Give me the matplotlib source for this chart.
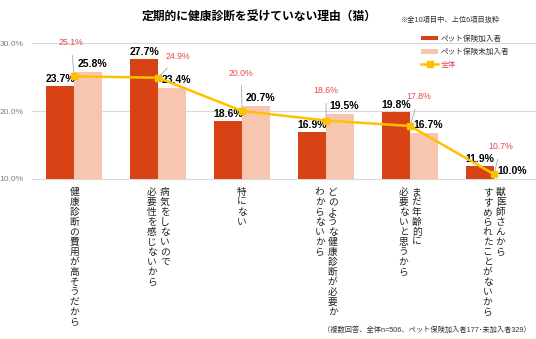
import matplotlib.pyplot as plt
import numpy as np

plt.rcParams['font.family'] = ['Liberation Sans', 'Noto Sans CJK JP', 'DejaVu Sans']

categories = [
    ['健康診断の費用が高そうだから'],
    ['病気をしないので', '必要性を感じないから'],
    ['特にない'],
    ['どのような健康診断が必要か', 'わからないから'],
    ['まだ年齢的に', '必要ないと思うから'],
    ['獣医師さんから', 'すすめられたことがないから'],
]
insured = [23.7, 27.7, 18.6, 16.9, 19.8, 11.9]
uninsured = [25.8, 23.4, 20.7, 19.5, 16.7, 10.0]
overall = [25.1, 24.9, 20.0, 18.6, 17.8, 10.7]
yticks = [10, 20, 30]

# offsets (pixels) for the 全体 labels and leader lines
overall_off = [(-3, 34), (20, 21), (-1, 38), (0, 30), (9, 29), (7, 28)]

red = '#D84315'
pink = '#F8C6AF'
gold = '#FFC000'
lab_red = '#E8484C'

fig = plt.figure(figsize=(5.36, 3.39), dpi=100)
ax = fig.add_axes([0.06, 0.472, 0.94, 0.401])

x = np.arange(len(categories))
w = 0.33
b1 = ax.bar(x - w / 2, insured, w, color=red, label='ペット保険加入者', zorder=2)
b2 = ax.bar(x + w / 2, uninsured, w, color=pink, label='ペット保険未加入者', zorder=2)
ln, = ax.plot(x, overall, color=gold, lw=1.8, marker='s', ms=4.5, label='全体', zorder=4)

ax.set_xlim(-0.5, 5.5)
ax.set_ylim(10, 30)
ax.set_yticks(yticks)
ax.set_yticklabels([f'{v:.1f}%' for v in yticks], color='#7f7f7f', fontsize=6)
ax.tick_params(axis='y', length=0, pad=6)
ax.tick_params(axis='x', length=0, labelbottom=False)
for s in ax.spines.values():
    s.set_visible(False)
for v in yticks:
    ax.axhline(v, color='#d9d9d9', lw=0.8, zorder=0, clip_on=False)

for i in range(len(categories)):
    ax.annotate(f'{insured[i]:.1f}%', (x[i] - w / 2, insured[i]), xytext=(0, 7),
                textcoords='offset pixels', ha='center', va='center',
                fontsize=7.5, fontweight='bold')
    ax.annotate(f'{uninsured[i]:.1f}%', (x[i] + w / 2, uninsured[i]), xytext=(4, 8),
                textcoords='offset pixels', ha='center', va='center',
                fontsize=7.5, fontweight='bold')
    dx, dy = overall_off[i]
    ax.annotate(f'{overall[i]:.1f}%', (x[i], overall[i]), xytext=(dx, dy),
                textcoords='offset pixels', ha='center', va='center',
                fontsize=6.3, color=lab_red, zorder=5,
                arrowprops=dict(arrowstyle='-', color='#a6a6a6', lw=0.6,
                                shrinkA=4, shrinkB=2))

# vertical (tategaki) category labels, first line on the right
for i, lines in enumerate(categories):
    n = len(lines)
    for j, line in enumerate(lines):
        cx = (n - 1) / 2 * 13 - j * 13
        for k, ch in enumerate(line):
            ax.annotate(ch, (x[i], 0), xycoords=('data', 'axes fraction'),
                        xytext=(cx, -13 - k * 10), textcoords='offset pixels',
                        ha='center', va='center', fontsize=7, color='#222222')

fig.text(0.483, 0.95, '定期的に健康診断を受けていない理由（猫）', ha='center', va='center',
         fontsize=8.5, fontweight='bold')
fig.text(0.748, 0.94, '※全10項目中、上位6項目抜粋', ha='left', va='center',
         fontsize=5.2, color='#333333')
fig.text(0.99, 0.027, '（複数回答、全体n=506、ペット保険加入者177･未加入者329）', ha='right',
         va='center', fontsize=5.2, color='#333333')

leg = fig.legend([b1, b2, ln], ['ペット保険加入者', 'ペット保険未加入者', '全体'],
                 loc='upper left', bbox_to_anchor=(0.78, 0.905), frameon=False,
                 fontsize=5.5, handlelength=2.2, handleheight=0.6,
                 labelspacing=0.75, handletextpad=0.3, borderaxespad=0)
for t in leg.get_texts():
    t.set_color('#333333')
leg.get_texts()[2].set_color(lab_red)

fig.savefig('out.png', dpi=100)
